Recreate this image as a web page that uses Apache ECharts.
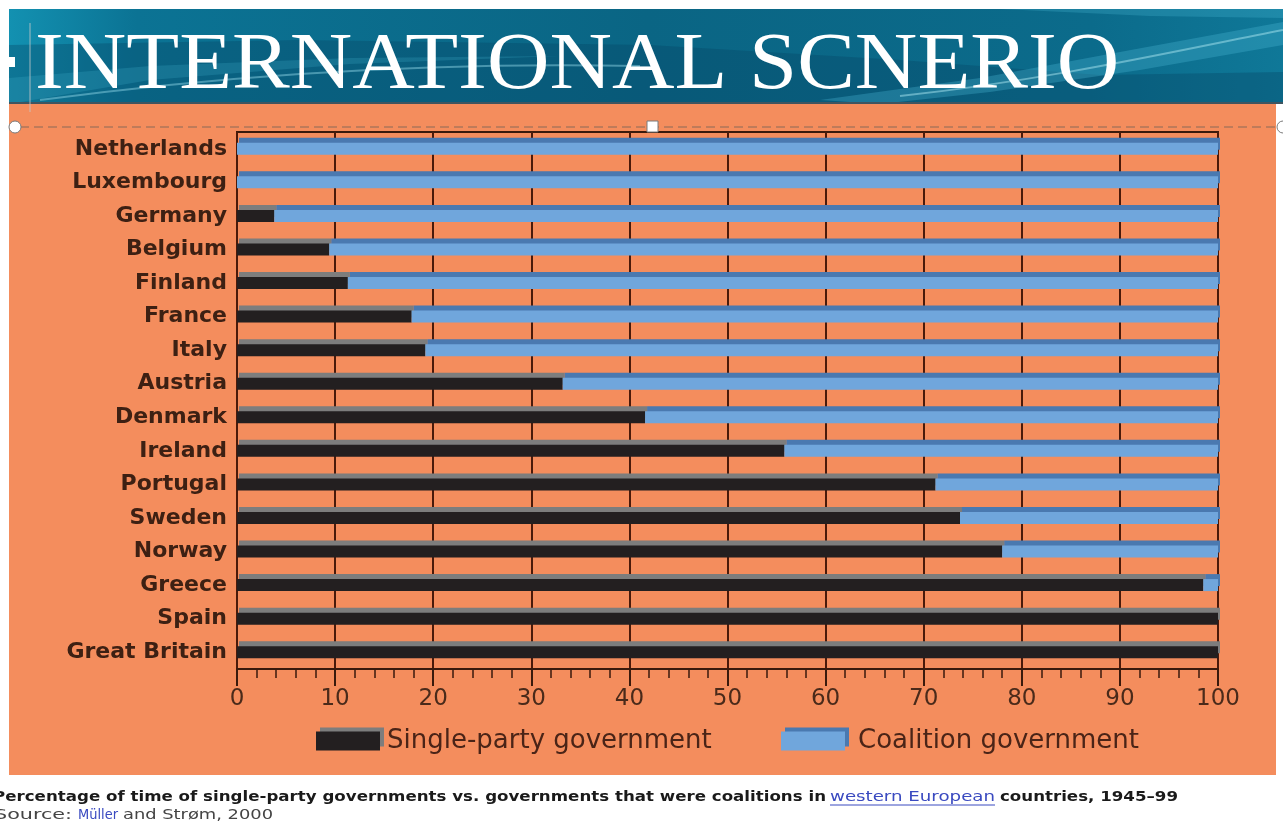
<!DOCTYPE html>
<html>
<head>
<meta charset="utf-8">
<script src="https://cdn.jsdelivr.net/npm/echarts@6/dist/echarts.min.js"></script>
<style>
html,body{margin:0;padding:0;background:#fff;}
#chart{width:1283px;height:822px;}
</style>
</head>
<body>
<div id="chart"></div>
<script>
const countries = ['Netherlands','Luxembourg','Germany','Belgium','Finland','France','Italy','Austria','Denmark','Ireland','Portugal','Sweden','Norway','Greece','Spain','Great Britain'];
const singleParty = [0, 0, 3.8, 9.4, 11.3, 17.8, 19.2, 33.2, 41.6, 55.8, 71.2, 73.7, 78.0, 98.5, 100, 100];
const coalition   = [100, 100, 96.2, 90.6, 88.7, 82.2, 80.8, 66.8, 58.4, 44.2, 28.8, 26.3, 22.0, 1.5, 0, 0];
const xTicks = [0, 100, 10];
const seriesNames = ['Single-party government', 'Coalition government'];
const titleText = 'INTERNATIONAL SCNERIO';
const captionParts = ['Percentage of time of single-party governments vs. governments that were coalitions in', 'western European', 'countries, 1945–99'];
const sourceParts = ['Source:', 'Müller', 'and Strøm, 2000'];

const chart = echarts.init(document.getElementById('chart'), null, {renderer: 'canvas'});
const brown = '#3a1a0c';
const labelColor = '#3d2013';

const measureCtx = document.createElement('canvas').getContext('2d');
function fitText(text, font, x0, x1, y, fill) {
  measureCtx.font = font;
  const w = measureCtx.measureText(text).width;
  return {type: 'text', z: 5, x: x0, y: y, scaleX: (x1 - x0) / w,
          style: {text: text, x: 0, y: 0, font: font, fill: fill, verticalAlign: 'middle', align: 'left'}};
}

const capFont = 'bold 14px "DejaVu Sans"';
const linkFont = '14px "DejaVu Sans"';
const srcFont = '14px "DejaVu Sans"';

const option = {
  backgroundColor: '#ffffff',
  animation: false,
  grid: {
    left: 237, right: 1283 - 1218, top: 132, bottom: 822 - 669,
    show: true, borderColor: brown, borderWidth: 2, backgroundColor: 'transparent'
  },
  xAxis: {
    type: 'value', min: xTicks[0], max: xTicks[1], interval: xTicks[2],
    axisLine: {show: true, lineStyle: {color: brown, width: 2}},
    axisTick: {show: true, length: 17, lineStyle: {color: brown, width: 2}},
    minorTick: {show: true, splitNumber: 5, length: 9, lineStyle: {color: brown, width: 1.5}},
    splitLine: {show: true, lineStyle: {color: '#4a1a0a', width: 2}},
    axisLabel: {margin: 19, fontFamily: 'DejaVu Sans', fontSize: 23, color: '#4a2a1a'}
  },
  yAxis: {
    type: 'category', inverse: true, data: countries,
    axisLine: {show: false}, axisTick: {show: false},
    axisLabel: {margin: 10, fontFamily: 'DejaVu Sans', fontWeight: 'bold', fontSize: 22, color: labelColor}
  },
  legend: [
    {data: [seriesNames[0]], left: 311, top: 723, itemWidth: 64, itemHeight: 19, itemGap: 10, icon: 'rect',
     itemStyle: {shadowColor: '#7d7d7d', shadowOffsetX: 4, shadowOffsetY: -4, shadowBlur: 0},
     textStyle: {fontFamily: 'DejaVu Sans', fontSize: 26, color: '#4a2417', padding: [0, 0, 0, 2]}},
    {data: [seriesNames[1]], left: 776, top: 723, itemWidth: 64, itemHeight: 19, itemGap: 10, icon: 'rect',
     itemStyle: {shadowColor: '#4a79b0', shadowOffsetX: 4, shadowOffsetY: -4, shadowBlur: 0},
     textStyle: {fontFamily: 'DejaVu Sans', fontSize: 26, color: '#4a2417', padding: [0, 0, 0, 8]}}
  ],
  series: [
    {
      name: seriesNames[0], type: 'bar', stack: 'total', data: singleParty, barWidth: 12,
      itemStyle: {color: '#231f20', shadowColor: '#7d7d7d', shadowOffsetX: 2, shadowOffsetY: -5, shadowBlur: 0}
    },
    {
      name: seriesNames[1], type: 'bar', stack: 'total', data: coalition, barWidth: 12,
      itemStyle: {color: '#70a6dc', shadowColor: '#4a79b0', shadowOffsetX: 2, shadowOffsetY: -5, shadowBlur: 0}
    }
  ],
  graphic: {
    elements: [
      {type: 'rect', z: -10, shape: {x: 9, y: 103, width: 1267, height: 672}, style: {fill: '#f48d5d'}},
      {type: 'rect', z: -9, shape: {x: 9, y: 9, width: 1274, height: 95},
       style: {fill: new echarts.graphic.LinearGradient(0, 0, 1, 0, [
         {offset: 0, color: '#1391b1'}, {offset: 0.1, color: '#0b7394'},
         {offset: 0.5, color: '#0a6584'}, {offset: 0.85, color: '#0b6b8b'}, {offset: 1, color: '#0f7898'}])}},
      {type: 'polygon', z: -8, shape: {points: [[9,45],[300,40],[650,45],[900,60],[1100,75],[1283,72],[1283,104],[9,104]]},
       style: {fill: 'rgba(6,70,100,0.35)'}},
      {type: 'polygon', z: -8, shape: {points: [[9,78],[150,66],[350,58],[560,56],[350,64],[150,80],[9,104]]},
       style: {fill: 'rgba(70,180,210,0.22)'}},
      {type: 'polygon', z: -8, shape: {points: [[820,100],[980,78],[1120,52],[1283,22],[1283,45],[1140,70],[990,92],[880,104]]},
       style: {fill: 'rgba(80,190,220,0.30)'}},
      {type: 'polygon', z: -8, shape: {points: [[1000,9],[1283,9],[1283,18],[1150,16]]},
       style: {fill: 'rgba(80,190,220,0.25)'}},
      {type: 'bezierCurve', z: -8, shape: {x1: 40, y1: 100, x2: 640, y2: 66, cpx1: 250, cpy1: 72, cpx2: 450, cpy2: 62},
       style: {fill: null, stroke: 'rgba(150,220,235,0.45)', lineWidth: 2}},
      {type: 'bezierCurve', z: -8, shape: {x1: 900, y1: 96, x2: 1283, y2: 30, cpx1: 1050, cpy1: 80, cpx2: 1180, cpy2: 50},
       style: {fill: null, stroke: 'rgba(170,230,240,0.5)', lineWidth: 2}},
      {type: 'line', z: -7, shape: {x1: 9, y1: 103, x2: 1283, y2: 103}, style: {stroke: '#3f5560', lineWidth: 2}},
      {type: 'text', z: 5, x: 35, y: 67, scaleX: 1.082,
       style: {text: titleText, x: 0, y: 0, fill: '#ffffff', font: '80px "Liberation Serif"', verticalAlign: 'middle', align: 'left'}},
      {type: 'line', z: 5, shape: {x1: 30, y1: 23, x2: 30, y2: 112}, style: {stroke: 'rgba(200,200,200,0.8)', lineWidth: 1}},
      {type: 'rect', z: 5, shape: {x: 9, y: 57, width: 6, height: 10}, style: {fill: '#ffffff'}},
      {type: 'line', z: 5, shape: {x1: 20, y1: 127, x2: 1278, y2: 127}, style: {stroke: '#8a6a58', lineWidth: 1.2, lineDash: [9, 5]}},
      {type: 'circle', z: 6, shape: {cx: 15, cy: 127, r: 6}, style: {fill: '#ffffff', stroke: '#7a7a7a', lineWidth: 1}},
      {type: 'circle', z: 6, shape: {cx: 1283, cy: 127, r: 6}, style: {fill: '#ffffff', stroke: '#7a7a7a', lineWidth: 1}},
      {type: 'rect', z: 6, shape: {x: 647, y: 121, width: 11, height: 11}, style: {fill: '#ffffff', stroke: '#7a7a7a', lineWidth: 1}},
      fitText(captionParts[0], capFont, -7, 826, 797, '#1a1a1a'),
      fitText(captionParts[1], linkFont, 830, 995, 797, '#3a4ac0'),
      {type: 'line', z: 5, shape: {x1: 830, y1: 805, x2: 995, y2: 805}, style: {stroke: '#3a4ac0', lineWidth: 1}},
      fitText(captionParts[2], capFont, 1000, 1178, 797, '#1a1a1a'),
      fitText(sourceParts[0], srcFont, -6, 72, 815, '#444444'),
      fitText(sourceParts[1], srcFont, 78, 118, 815, '#3a4ac0'),
      fitText(sourceParts[2], srcFont, 123, 273, 815, '#444444')
    ]
  }
};
chart.setOption(option);
</script>
</body>
</html>
